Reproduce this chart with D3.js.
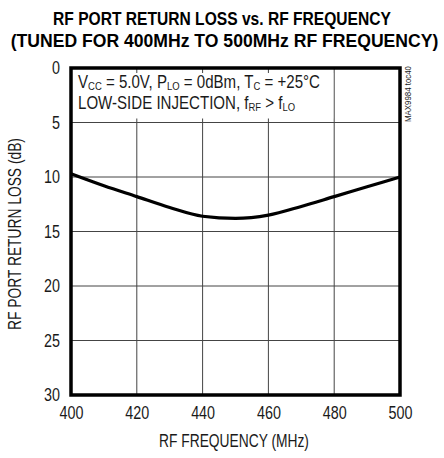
<!DOCTYPE html>
<html><head><meta charset="utf-8">
<script src="https://cdn.jsdelivr.net/npm/d3@7"></script>
<style>
html,body{margin:0;padding:0;background:#fff;}
text{font-family:"Liberation Sans",Arial,sans-serif;fill:#1a1a1a;}
</style></head>
<body><svg id="c" width="444" height="458"></svg>
<script>
const freq = [400, 410, 420, 430, 440, 450, 460, 470, 480, 490, 500];
const returnLoss = [9.7, 10.8, 11.8, 12.8, 13.6, 13.8, 13.5, 12.7, 11.8, 10.9, 10.0];
const xTicks = [400, 420, 440, 460, 480, 500];
const yTicks = [0, 5, 10, 15, 20, 25, 30];
const titleLines = ["RF PORT RETURN LOSS vs. RF FREQUENCY", "(TUNED FOR 400MHz TO 500MHz RF FREQUENCY)"];

const svg = d3.select("#c");
const L = 71, R = 400, T = 68, B = 395;
const x = d3.scaleLinear().domain([400, 500]).range([L, R]);
const y = d3.scaleLinear().domain([0, 30]).range([T, B]);

function fit(sel, tx, ty, width, rot) {
  const w = sel.node().getComputedTextLength();
  const s = width / w;
  sel.attr("x", 0).attr("y", 0)
    .attr("transform", `translate(${tx},${ty})${rot ? " rotate(" + rot + ")" : ""} scale(${s},1)`);
}

// title
const ti1 = svg.append("text").attr("text-anchor", "middle").attr("font-weight", "bold")
  .attr("font-size", 19).style("fill", "#000").text(titleLines[0]);
fit(ti1, 222, 25, 338);
const ti2 = svg.append("text").attr("text-anchor", "middle").attr("font-weight", "bold")
  .attr("font-size", 19).style("fill", "#000").text(titleLines[1]);
fit(ti2, 224.5, 47, 428);

// grid
const g = svg.append("g");
g.selectAll(".vg").data(xTicks.slice(1, -1)).enter().append("line")
  .attr("x1", d => x(d)).attr("x2", d => x(d)).attr("y1", T).attr("y2", B)
  .attr("stroke", "#444").attr("stroke-width", 1);
g.selectAll(".hg").data(yTicks.slice(1, -1)).enter().append("line")
  .attr("x1", L).attr("x2", R).attr("y1", d => y(d)).attr("y2", d => y(d))
  .attr("stroke", "#444").attr("stroke-width", 1);

// annotation box (white background)
svg.append("rect").attr("x", L + 1).attr("y", T + 5).attr("width", x(480) - L - 2).attr("height", y(5) - T - 9)
  .attr("fill", "#fff");

const ann = svg.append("g").attr("font-size", 17.5);
const t1 = ann.append("text");
t1.append("tspan").text("V");
t1.append("tspan").attr("font-size", 11).attr("dy", 2.5).text("CC");
t1.append("tspan").attr("dy", -2.5).text(" = 5.0V, P");
t1.append("tspan").attr("font-size", 11).attr("dy", 2.5).text("LO");
t1.append("tspan").attr("dy", -2.5).text(" = 0dBm, T");
t1.append("tspan").attr("font-size", 11).attr("dy", 2.5).text("C");
t1.append("tspan").attr("dy", -2.5).text(" = +25°C");
const w1 = t1.node().getComputedTextLength();
const annScale = 242 / w1;
t1.attr("transform", `translate(78,87.5) scale(${annScale},1)`);
const t2 = ann.append("text");
t2.append("tspan").text("LOW-SIDE INJECTION, f");
t2.append("tspan").attr("font-size", 11).attr("dy", 2.5).text("RF");
t2.append("tspan").attr("dy", -2.5).text(" > f");
t2.append("tspan").attr("font-size", 11).attr("dy", 2.5).text("LO");
t2.attr("transform", `translate(78,108.5) scale(${annScale},1)`);

// curve
const line = d3.line().x((d, i) => x(freq[i])).y(d => y(d)).curve(d3.curveMonotoneX);
svg.append("path").datum(returnLoss).attr("d", line).attr("fill", "none")
  .attr("stroke", "#000").attr("stroke-width", 3.2);

// frame
svg.append("rect").attr("x", L).attr("y", T).attr("width", R - L).attr("height", B - T)
  .attr("fill", "none").attr("stroke", "#000").attr("stroke-width", 3.5);

// axes labels
const xa = svg.append("g").attr("transform", `translate(0,${B + 18})`)
  .call(d3.axisBottom(x).tickValues(xTicks).tickSize(0).tickPadding(0));
xa.select(".domain").remove();
xa.selectAll("text").attr("font-size", 17.5).attr("font-family", null).style("fill", "#1a1a1a")
  .attr("y", 0).attr("dy", "0.36em").attr("transform", "scale(0.82,1)");

const ya = svg.append("g").attr("transform", `translate(${L - 11},0)`)
  .call(d3.axisLeft(y).tickValues(yTicks).tickSize(0).tickPadding(0));
ya.select(".domain").remove();
ya.selectAll("text").attr("font-size", 17.5).attr("font-family", null).style("fill", "#1a1a1a")
  .attr("transform", "scale(0.82,1)");

const xt = svg.append("text").attr("text-anchor", "middle").attr("font-size", 17.5).text("RF FREQUENCY (MHz)");
fit(xt, 234, 447, 150);
const yt = svg.append("text").attr("text-anchor", "middle").attr("font-size", 17.5).text("RF PORT RETURN LOSS (dB)");
fit(yt, 21, 234, 192, -90);

const mx = svg.append("text").attr("text-anchor", "end").attr("font-size", 9.5).text("MAX9984 toc40");
fit(mx, 411, 66, 56, -90);
</script></body></html>
